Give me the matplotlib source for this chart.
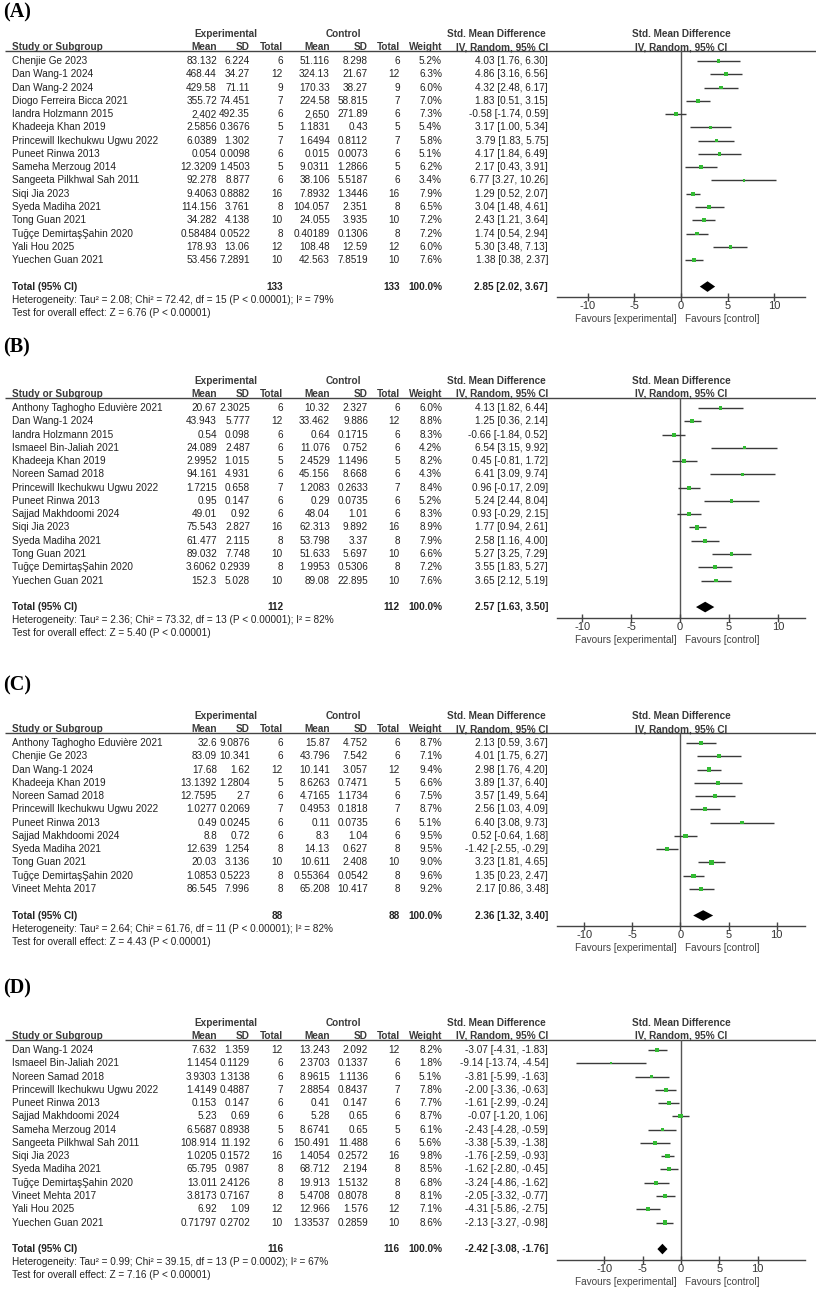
import matplotlib
matplotlib.use("Agg")
import matplotlib.pyplot as plt

# ---------------- data ----------------
# Panel A
names_a = ["Chenjie Ge 2023", "Dan Wang-1 2024", "Dan Wang-2 2024", "Diogo Ferreira Bicca 2021",
           "Iandra Holzmann 2015", "Khadeeja Khan 2019", "Princewill Ikechukwu Ugwu 2022",
           "Puneet Rinwa 2013", "Sameha Merzoug 2014", "Sangeeta Pilkhwal Sah 2011", "Siqi Jia 2023",
           "Syeda Madiha 2021", "Tong Guan 2021", "Tuğçe DemirtaşŞahin 2020", "Yali Hou 2025",
           "Yuechen Guan 2021"]
exp_mean_a = ["83.132", "468.44", "429.58", "355.72", "2,402", "2.5856", "6.0389", "0.054", "12.3209",
              "92.278", "9.4063", "114.156", "34.282", "0.58484", "178.93", "53.456"]
exp_sd_a = ["6.224", "34.27", "71.11", "74.451", "492.35", "0.3676", "1.302", "0.0098", "1.4503",
            "8.877", "0.8882", "3.761", "4.138", "0.0522", "13.06", "7.2891"]
n_a = [6, 12, 9, 7, 6, 5, 7, 6, 5, 6, 16, 8, 10, 8, 12, 10]
ctl_mean_a = ["51.116", "324.13", "170.33", "224.58", "2,650", "1.1831", "1.6494", "0.015", "9.0311",
              "38.106", "7.8932", "104.057", "24.055", "0.40189", "108.48", "42.563"]
ctl_sd_a = ["8.298", "21.67", "38.27", "58.815", "271.89", "0.43", "0.8112", "0.0073", "1.2866",
            "5.5187", "1.3446", "2.351", "3.935", "0.1306", "12.59", "7.8519"]
weight_a = [5.2, 6.3, 6.0, 7.0, 7.3, 5.4, 5.8, 5.1, 6.2, 3.4, 7.9, 6.5, 7.2, 7.2, 6.0, 7.6]
smd_a = [4.03, 4.86, 4.32, 1.83, -0.58, 3.17, 3.79, 4.17, 2.17, 6.77, 1.29, 3.04, 2.43, 1.74, 5.30, 1.38]
lo_a = [1.76, 3.16, 2.48, 0.51, -1.74, 1.00, 1.83, 1.84, 0.43, 3.27, 0.52, 1.48, 1.21, 0.54, 3.48, 0.38]
hi_a = [6.30, 6.56, 6.17, 3.15, 0.59, 5.34, 5.75, 6.49, 3.91, 10.26, 2.07, 4.61, 3.64, 2.94, 7.13, 2.37]
total_a = (133, 133, 2.85, 2.02, 3.67)
het_a = "Heterogeneity: Tau² = 2.08; Chi² = 72.42, df = 15 (P < 0.00001); I² = 79%"
z_a = "Test for overall effect: Z = 6.76 (P < 0.00001)"

# Panel B
names_b = ["Anthony Taghogho Eduvière 2021", "Dan Wang-1 2024", "Iandra Holzmann 2015",
           "Ismaeel Bin-Jaliah 2021", "Khadeeja Khan 2019", "Noreen Samad 2018",
           "Princewill Ikechukwu Ugwu 2022", "Puneet Rinwa 2013", "Sajjad Makhdoomi 2024",
           "Siqi Jia 2023", "Syeda Madiha 2021", "Tong Guan 2021", "Tuğçe DemirtaşŞahin 2020",
           "Yuechen Guan 2021"]
exp_mean_b = ["20.67", "43.943", "0.54", "24.089", "2.9952", "94.161", "1.7215", "0.95", "49.01",
              "75.543", "61.477", "89.032", "3.6062", "152.3"]
exp_sd_b = ["2.3025", "5.777", "0.098", "2.487", "1.015", "4.931", "0.658", "0.147", "0.92", "2.827",
            "2.115", "7.748", "0.2939", "5.028"]
n_b = [6, 12, 6, 6, 5, 6, 7, 6, 6, 16, 8, 10, 8, 10]
ctl_mean_b = ["10.32", "33.462", "0.64", "11.076", "2.4529", "45.156", "1.2083", "0.29", "48.04",
              "62.313", "53.798", "51.633", "1.9953", "89.08"]
ctl_sd_b = ["2.327", "9.886", "0.1715", "0.752", "1.1496", "8.668", "0.2633", "0.0735", "1.01",
            "9.892", "3.37", "5.697", "0.5306", "22.895"]
weight_b = [6.0, 8.8, 8.3, 4.2, 8.2, 4.3, 8.4, 5.2, 8.3, 8.9, 7.9, 6.6, 7.2, 7.6]
smd_b = [4.13, 1.25, -0.66, 6.54, 0.45, 6.41, 0.96, 5.24, 0.93, 1.77, 2.58, 5.27, 3.55, 3.65]
lo_b = [1.82, 0.36, -1.84, 3.15, -0.81, 3.09, -0.17, 2.44, -0.29, 0.94, 1.16, 3.25, 1.83, 2.12]
hi_b = [6.44, 2.14, 0.52, 9.92, 1.72, 9.74, 2.09, 8.04, 2.15, 2.61, 4.00, 7.29, 5.27, 5.19]
total_b = (112, 112, 2.57, 1.63, 3.50)
het_b = "Heterogeneity: Tau² = 2.36; Chi² = 73.32, df = 13 (P < 0.00001); I² = 82%"
z_b = "Test for overall effect: Z = 5.40 (P < 0.00001)"

# Panel C
names_c = ["Anthony Taghogho Eduvière 2021", "Chenjie Ge 2023", "Dan Wang-1 2024", "Khadeeja Khan 2019",
           "Noreen Samad 2018", "Princewill Ikechukwu Ugwu 2022", "Puneet Rinwa 2013",
           "Sajjad Makhdoomi 2024", "Syeda Madiha 2021", "Tong Guan 2021", "Tuğçe DemirtaşŞahin 2020",
           "Vineet Mehta 2017"]
exp_mean_c = ["32.6", "83.09", "17.68", "13.1392", "12.7595", "1.0277", "0.49", "8.8", "12.639",
              "20.03", "1.0853", "86.545"]
exp_sd_c = ["9.0876", "10.341", "1.62", "1.2804", "2.7", "0.2069", "0.0245", "0.72", "1.254", "3.136",
            "0.5223", "7.996"]
n_c = [6, 6, 12, 5, 6, 7, 6, 6, 8, 10, 8, 8]
ctl_mean_c = ["15.87", "43.796", "10.141", "8.6263", "4.7165", "0.4953", "0.11", "8.3", "14.13",
              "10.611", "0.55364", "65.208"]
ctl_sd_c = ["4.752", "7.542", "3.057", "0.7471", "1.1734", "0.1818", "0.0735", "1.04", "0.627",
            "2.408", "0.0542", "10.417"]
weight_c = [8.7, 7.1, 9.4, 6.6, 7.5, 8.7, 5.1, 9.5, 9.5, 9.0, 9.6, 9.2]
smd_c = [2.13, 4.01, 2.98, 3.89, 3.57, 2.56, 6.40, 0.52, -1.42, 3.23, 1.35, 2.17]
lo_c = [0.59, 1.75, 1.76, 1.37, 1.49, 1.03, 3.08, -0.64, -2.55, 1.81, 0.23, 0.86]
hi_c = [3.67, 6.27, 4.20, 6.40, 5.64, 4.09, 9.73, 1.68, -0.29, 4.65, 2.47, 3.48]
total_c = (88, 88, 2.36, 1.32, 3.40)
het_c = "Heterogeneity: Tau² = 2.64; Chi² = 61.76, df = 11 (P < 0.00001); I² = 82%"
z_c = "Test for overall effect: Z = 4.43 (P < 0.00001)"

# Panel D
names_d = ["Dan Wang-1 2024", "Ismaeel Bin-Jaliah 2021", "Noreen Samad 2018",
           "Princewill Ikechukwu Ugwu 2022", "Puneet Rinwa 2013", "Sajjad Makhdoomi 2024",
           "Sameha Merzoug 2014", "Sangeeta Pilkhwal Sah 2011", "Siqi Jia 2023", "Syeda Madiha 2021",
           "Tuğçe DemirtaşŞahin 2020", "Vineet Mehta 2017", "Yali Hou 2025", "Yuechen Guan 2021"]
exp_mean_d = ["7.632", "1.1454", "3.9303", "1.4149", "0.153", "5.23", "6.5687", "108.914", "1.0205",
              "65.795", "13.011", "3.8173", "6.92", "0.71797"]
exp_sd_d = ["1.359", "0.1129", "1.3138", "0.4887", "0.147", "0.69", "0.8938", "11.192", "0.1572",
            "0.987", "2.4126", "0.7167", "1.09", "0.2702"]
n_d = [12, 6, 6, 7, 6, 6, 5, 6, 16, 8, 8, 8, 12, 10]
ctl_mean_d = ["13.243", "2.3703", "8.9615", "2.8854", "0.41", "5.28", "8.6741", "150.491", "1.4054",
              "68.712", "19.913", "5.4708", "12.966", "1.33537"]
ctl_sd_d = ["2.092", "0.1337", "1.1136", "0.8437", "0.147", "0.65", "0.65", "11.488", "0.2572",
            "2.194", "1.5132", "0.8078", "1.576", "0.2859"]
weight_d = [8.2, 1.8, 5.1, 7.8, 7.7, 8.7, 6.1, 5.6, 9.8, 8.5, 6.8, 8.1, 7.1, 8.6]
smd_d = [-3.07, -9.14, -3.81, -2.00, -1.61, -0.07, -2.43, -3.38, -1.76, -1.62, -3.24, -2.05, -4.31, -2.13]
lo_d = [-4.31, -13.74, -5.99, -3.36, -2.99, -1.20, -4.28, -5.39, -2.59, -2.80, -4.86, -3.32, -5.86, -3.27]
hi_d = [-1.83, -4.54, -1.63, -0.63, -0.24, 1.06, -0.59, -1.38, -0.93, -0.45, -1.62, -0.77, -2.75, -0.98]
total_d = (116, 116, -2.42, -3.08, -1.76)
het_d = "Heterogeneity: Tau² = 0.99; Chi² = 39.15, df = 13 (P = 0.0002); I² = 67%"
z_d = "Test for overall effect: Z = 7.16 (P < 0.00001)"

ticks = [-10, -5, 0, 5, 10]

# ---------------- layout (pixels) ----------------
W, H = 816, 1294
RS = 13.27          # row spacing
FS = 7.2
TXT = "#222222"
HDR = "#3a3a3a"
LINE = "#444444"
GREEN = "#33bb33"

plt.rcParams["font.family"] = ["Liberation Sans", "DejaVu Sans"]

fig = plt.figure(figsize=(W / 100, H / 100), dpi=100)
ax0 = fig.add_axes([0, 0, 1, 1])
ax0.set_xlim(0, W)
ax0.set_ylim(H, 0)
ax0.axis("off")

# right-aligned column x positions
X_NAME = 12
X_MEAN_E, X_SD_E, X_N_E = 217, 250, 283
X_MEAN_C, X_SD_C, X_N_C = 330, 368, 400
X_W, X_CI = 442, 548
PLOT_L, PLOT_R = 557, 805


def fmt_ci(m, l, h):
    return f"{m:.2f} [{l:.2f}, {h:.2f}]"


def draw_panel(label, label_y, row1, xlim, names, em, es, ne, cm, cs, w, smd, lo, hi, total, het, z):
    n = len(names)
    t = dict(fontsize=FS, color=TXT, va="center")
    hb = dict(fontsize=FS, color=HDR, va="center", fontweight="bold")

    ax0.text(3, label_y, label, fontsize=14.5, fontweight="bold", va="center", ha="left",
             family=["Liberation Serif", "DejaVu Serif"], color="black")

    # headers
    y1 = row1 - 27
    y2 = row1 - 14
    ax0.text(226, y1, "Experimental", ha="center", **hb)
    ax0.text(343, y1, "Control", ha="center", **hb)
    ax0.text(496, y1, "Std. Mean Difference", ha="center", **hb)
    ax0.text(681, y1, "Std. Mean Difference", ha="center", **hb)
    ax0.text(X_NAME, y2, "Study or Subgroup", ha="left", **hb)
    for x, s in [(X_MEAN_E, "Mean"), (X_SD_E, "SD"), (X_N_E, "Total"), (X_MEAN_C, "Mean"),
                 (X_SD_C, "SD"), (X_N_C, "Total"), (X_W, "Weight"), (X_CI, "IV, Random, 95% CI")]:
        ax0.text(x, y2, s, ha="right", **hb)
    ax0.text(681, y2, "IV, Random, 95% CI", ha="center", **hb)
    ax0.hlines(row1 - 0.72 * RS, 5, W, color=LINE, lw=1.0)

    # study rows
    for i in range(n):
        y = row1 + i * RS
        ax0.text(X_NAME, y, names[i], ha="left", **t)
        ax0.text(X_MEAN_E, y, em[i], ha="right", **t)
        ax0.text(X_SD_E, y, es[i], ha="right", **t)
        ax0.text(X_N_E, y, str(ne[i]), ha="right", **t)
        ax0.text(X_MEAN_C, y, cm[i], ha="right", **t)
        ax0.text(X_SD_C, y, cs[i], ha="right", **t)
        ax0.text(X_N_C, y, str(ne[i]), ha="right", **t)
        ax0.text(X_W, y, f"{w[i]:.1f}%", ha="right", **t)
        ax0.text(X_CI, y, fmt_ci(smd[i], lo[i], hi[i]), ha="right", **t)

    # total rows
    yt = row1 + (n + 1) * RS
    tb = dict(fontsize=FS, color=TXT, va="center", fontweight="bold")
    ax0.text(X_NAME, yt, "Total (95% CI)", ha="left", **tb)
    ax0.text(X_N_E, yt, str(total[0]), ha="right", **tb)
    ax0.text(X_N_C, yt, str(total[1]), ha="right", **tb)
    ax0.text(X_W, yt, "100.0%", ha="right", **tb)
    ax0.text(X_CI, yt, fmt_ci(total[2], total[3], total[4]), ha="right", **tb)
    ax0.text(X_NAME, yt + 13, het, ha="left", **t)
    ax0.text(X_NAME, yt + 26, z, ha="left", **t)

    # forest plot axes
    top = row1 - 0.72 * RS
    bot = row1 + (n + 1.8) * RS
    ax = fig.add_axes([PLOT_L / W, 1 - bot / H, (PLOT_R - PLOT_L) / W, (bot - top) / H])
    ax.set_xlim(*xlim)
    ax.set_ylim(n + 1.8, -0.72)
    ax.patch.set_alpha(0)
    for s in ["top", "left", "right"]:
        ax.spines[s].set_visible(False)
    ax.spines["bottom"].set_color(LINE)
    ax.spines["bottom"].set_linewidth(1.0)
    ax.axvline(0, color="#555555", lw=1.0, zorder=1)
    rows = list(range(n))
    ax.hlines(rows, lo, hi, color="#3a3a3a", lw=1.0, zorder=2)
    sizes = [(0.72 * (2.0 + 0.25 * wi)) ** 2 for wi in w]
    ax.scatter(smd, rows, s=sizes, marker="s", color=GREEN, lw=0, zorder=3)
    r = n + 1
    ax.fill([total[3], total[2], total[4], total[2]], [r, r - 0.4, r, r + 0.4],
            color="black", lw=0, zorder=3)
    ax.set_xticks(ticks)
    ax.set_xticklabels([str(v) for v in ticks])
    ax.set_yticks([])
    ax.tick_params(axis="x", direction="inout", length=6, width=1.0, color=LINE,
                   labelcolor="#333333", labelsize=FS + 0.8, pad=0)

    yf = bot + 22
    ax0.text(677, yf, "Favours [experimental]", ha="right", fontsize=FS, color="#444444", va="center")
    ax0.text(685, yf, "Favours [control]", ha="left", fontsize=FS, color="#444444", va="center")


draw_panel("(A)", 12, 61, (-13.33, 13.33), names_a, exp_mean_a, exp_sd_a, n_a, ctl_mean_a, ctl_sd_a,
           weight_a, smd_a, lo_a, hi_a, total_a, het_a, z_a)
draw_panel("(B)", 347, 408, (-12.56, 12.76), names_b, exp_mean_b, exp_sd_b, n_b, ctl_mean_b, ctl_sd_b,
           weight_b, smd_b, lo_b, hi_b, total_b, het_b, z_b)
draw_panel("(C)", 685, 743, (-12.84, 12.95), names_c, exp_mean_c, exp_sd_c, n_c, ctl_mean_c, ctl_sd_c,
           weight_c, smd_c, lo_c, hi_c, total_c, het_c, z_c)
draw_panel("(D)", 988, 1050, (-16.17, 16.17), names_d, exp_mean_d, exp_sd_d, n_d, ctl_mean_d, ctl_sd_d,
           weight_d, smd_d, lo_d, hi_d, total_d, het_d, z_d)

fig.savefig("out.png", dpi=100)
